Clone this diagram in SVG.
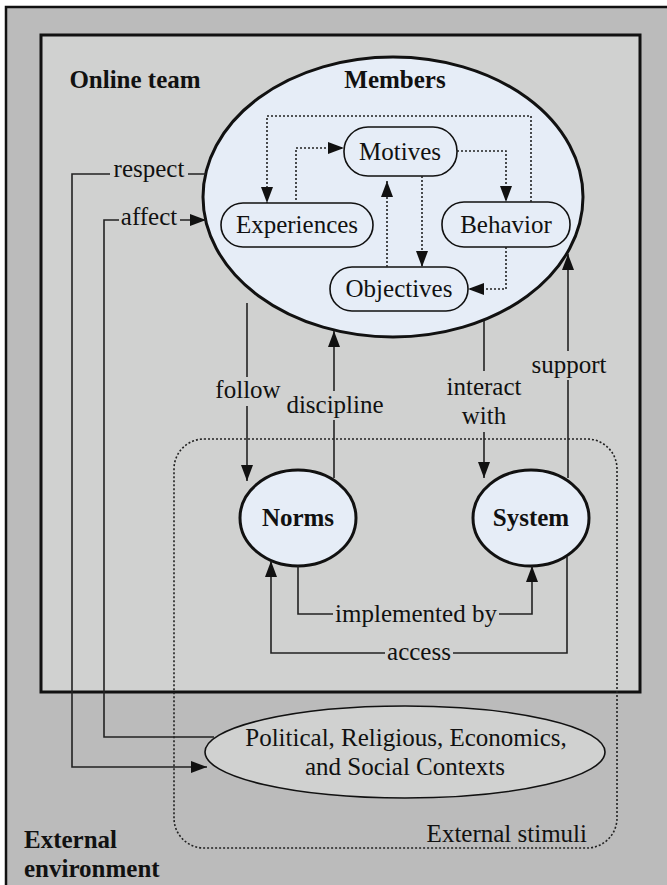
<svg xmlns="http://www.w3.org/2000/svg" width="667" height="885" viewBox="0 0 667 885">
<defs>
<style>
text{font-family:"Liberation Serif","Times New Roman",serif;font-size:25px;fill:#111;}
.b{font-weight:bold;}
.m{text-anchor:middle;}
.node{fill:#e6edf7;stroke:#111;stroke-width:1.6;}
.big{fill:#e6edf7;stroke:#111;stroke-width:3;}
.ln{fill:none;stroke:#222;stroke-width:1.6;}
.dot{fill:none;stroke:#222;stroke-width:1.6;stroke-dasharray:2 2;}
.lbg{fill:#d0d1d0;}
</style>
<marker id="ah" markerUnits="userSpaceOnUse" markerWidth="16" markerHeight="12" refX="16" refY="6" orient="auto">
<path d="M0,0 L16,6 L0,12 z" fill="#111"/>
</marker>
</defs>

<g id="external-environment">
<rect x="6" y="7" width="700" height="900" fill="#bbbbbb" stroke="#111" stroke-width="2.5"/>
<text class="b" x="24" y="848">External</text>
<text class="b" x="24" y="877">environment</text>
</g>

<g id="online-team">
<rect x="41" y="35" width="599" height="657" fill="#d0d1d0" stroke="#111" stroke-width="3"/>
<text class="b m" x="135" y="88">Online team</text>
</g>

<g id="external-stimuli">
<rect x="174" y="439" width="443" height="409" rx="30" class="dot"/>
<text x="587" y="842" text-anchor="end">External stimuli</text>
</g>

<g id="members">
<ellipse cx="393" cy="197" rx="190" ry="140" class="big"/>
<text class="b m" x="395" y="88">Members</text>
</g>

<g id="motives">
<rect x="344" y="127" width="113" height="49" rx="24" class="node"/>
<text class="m" x="400" y="160">Motives</text>
</g>
<g id="experiences">
<rect x="221" y="203" width="152" height="44" rx="22" class="node"/>
<text class="m" x="297" y="233">Experiences</text>
</g>
<g id="behavior">
<rect x="442" y="202" width="128" height="45" rx="22" class="node"/>
<text class="m" x="506" y="233">Behavior</text>
</g>
<g id="objectives">
<rect x="330" y="267" width="138" height="44" rx="22" class="node"/>
<text class="m" x="399" y="297">Objectives</text>
</g>

<g id="norms">
<ellipse cx="298" cy="518" rx="58" ry="48" class="big"/>
<text class="b m" x="298" y="526">Norms</text>
</g>
<g id="system">
<ellipse cx="531" cy="518" rx="58" ry="48" class="big"/>
<text class="b m" x="531" y="526">System</text>
</g>

<g id="contexts">
<ellipse cx="405" cy="752" rx="200" ry="46" fill="#d0d1d0" stroke="#111" stroke-width="1.6"/>
<text class="m" x="406" y="746">Political, Religious, Economics,</text>
<text class="m" x="405" y="775">and Social Contexts</text>
</g>

<g id="connectors">
<polyline class="dot" points="531,202 531,116 267,116 267,203" marker-end="url(#ah)"/>
<polyline class="dot" points="296,200 296,148 344,148" marker-end="url(#ah)"/>
<polyline class="dot" points="457,151 506,151 506,202" marker-end="url(#ah)"/>
<polyline class="dot" points="422,176 422,267" marker-end="url(#ah)"/>
<polyline class="dot" points="387,267 387,181" marker-end="url(#ah)"/>
<polyline class="dot" points="506,247 506,289 468,289" marker-end="url(#ah)"/>

<polyline class="ln" points="206,174 72,174 72,767 207,767" marker-end="url(#ah)"/>
<polyline class="ln" points="214,737 104,737 104,220 206,220" marker-end="url(#ah)"/>

<polyline class="ln" points="247,303 247,481" marker-end="url(#ah)"/>
<polyline class="ln" points="334,478 334,331" marker-end="url(#ah)"/>
<polyline class="ln" points="484,321 484,478" marker-end="url(#ah)"/>
<polyline class="ln" points="568,478 568,254" marker-end="url(#ah)"/>

<polyline class="ln" points="298,566 298,614 532,614 532,566" marker-end="url(#ah)"/>
<polyline class="ln" points="567,557 567,653 271,653 271,561" marker-end="url(#ah)"/>

<rect class="lbg" x="110" y="160" width="78" height="24"/>
<text class="m" x="149" y="177">respect</text>
<rect class="lbg" x="119" y="206" width="61" height="24"/>
<text class="m" x="149" y="225">affect</text>
<rect class="lbg" x="212" y="377" width="70" height="29"/>
<text class="m" x="248" y="398">follow</text>
<rect class="lbg" x="286" y="391" width="98" height="29"/>
<text class="m" x="335" y="413">discipline</text>
<rect class="lbg" x="445" y="371" width="78" height="61"/>
<text class="m" x="484" y="395">interact</text>
<text class="m" x="484" y="424">with</text>
<rect class="lbg" x="529" y="351" width="80" height="29"/>
<text class="m" x="569" y="373">support</text>
<rect class="lbg" x="333" y="599" width="166" height="29"/>
<text class="m" x="416" y="622">implemented by</text>
<rect class="lbg" x="385" y="640" width="68" height="24"/>
<text class="m" x="419" y="660">access</text>
</g>
</svg>
